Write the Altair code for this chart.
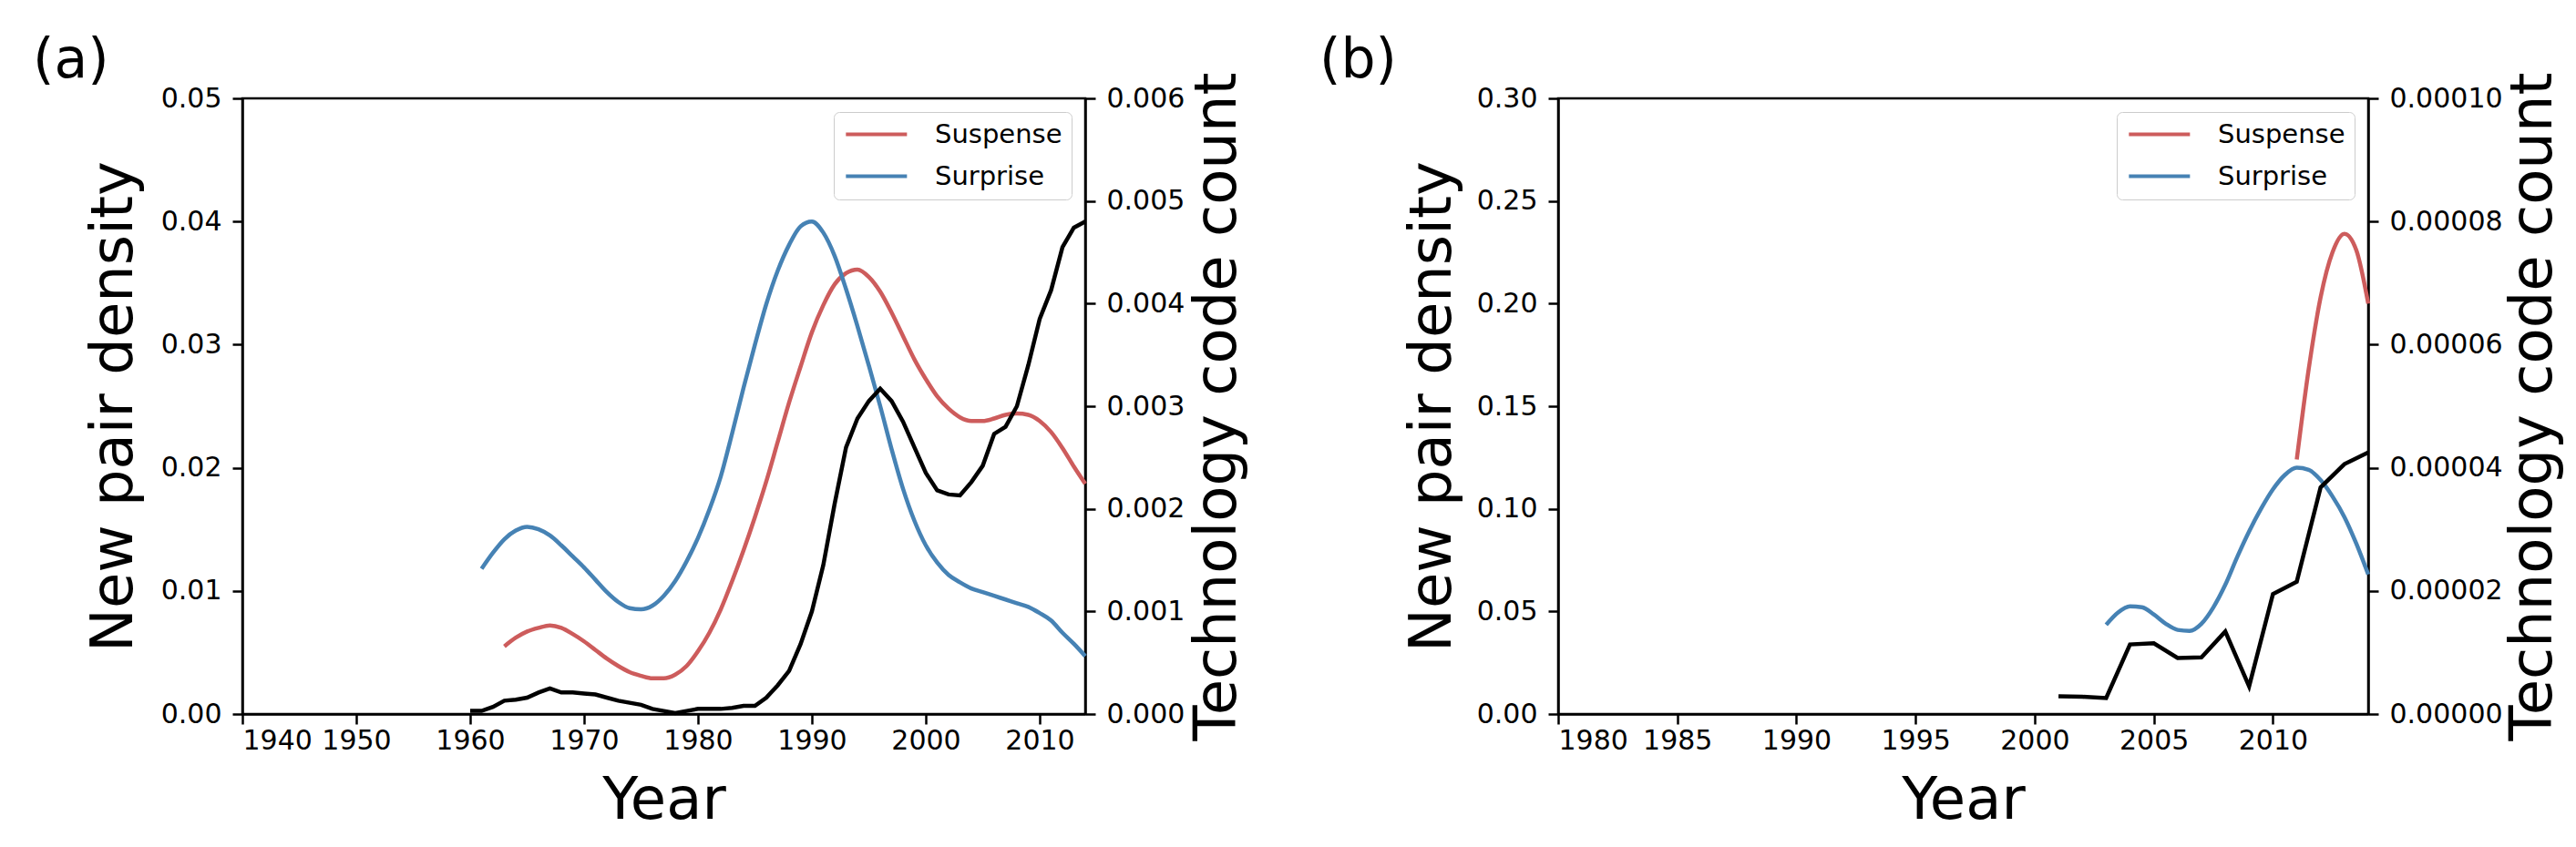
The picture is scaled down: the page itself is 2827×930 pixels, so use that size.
import altair as alt
import pandas as pd

# ---------------- data ----------------
# Panel (a)
A_SURPRISE_YEARS = list(range(1961, 2015))
A_SURPRISE = [0.0118, 0.0131, 0.0142, 0.0149, 0.0152, 0.0150, 0.0145, 0.0137, 0.0128, 0.0119,
              0.0109, 0.0099, 0.0091, 0.0086, 0.0085, 0.0088, 0.0096, 0.0108, 0.0124, 0.0143,
              0.0166, 0.0193, 0.0228, 0.0265, 0.0300, 0.0333, 0.0360, 0.0381, 0.0396, 0.0400,
              0.0391, 0.0372, 0.0345, 0.0315, 0.0283, 0.0250, 0.0215, 0.0183, 0.0157, 0.0137,
              0.0123, 0.0113, 0.0107, 0.0102, 0.0099, 0.0096, 0.0093, 0.0090, 0.0087, 0.0082,
              0.0076, 0.0066, 0.0057, 0.0047]
A_SUSPENSE_YEARS = list(range(1963, 2015))
A_SUSPENSE = [0.0055, 0.0062, 0.0067, 0.0070, 0.0072, 0.0070, 0.0065, 0.0059,
              0.0052, 0.0045, 0.0039, 0.0034, 0.0031, 0.0029, 0.0029, 0.0032, 0.0039, 0.0051,
              0.0066, 0.0085, 0.0108, 0.0133, 0.0160, 0.0189, 0.0221, 0.0253, 0.0282, 0.0310,
              0.0332, 0.0349, 0.0358, 0.0361, 0.0355, 0.0343, 0.0326, 0.0307, 0.0288, 0.0272,
              0.0258, 0.0248, 0.0241, 0.0238, 0.0238, 0.0240, 0.0243, 0.0244, 0.0243, 0.0238,
              0.0229, 0.0216, 0.0201, 0.0187]
A_TECH_YEARS = list(range(1960, 2015))
A_TECH = [0.00003, 0.00003, 0.00007, 0.00013, 0.00014, 0.00016, 0.00021, 0.00025, 0.00021, 0.00021,
          0.00020, 0.00019, 0.00016, 0.00013, 0.00011, 0.00009, 0.00005, 0.00003, 0.00001, 0.00003,
          0.00005, 0.00005, 0.00005, 0.00006, 0.00008, 0.00008, 0.00016, 0.00028, 0.00042, 0.00068,
          0.00100, 0.00145, 0.00205, 0.00260, 0.00288, 0.00305, 0.00317, 0.00305, 0.00285, 0.00260,
          0.00235, 0.00218, 0.00214, 0.00213, 0.00226, 0.00242, 0.00273, 0.00280, 0.00300, 0.00340,
          0.00385, 0.00413, 0.00455, 0.00474, 0.00480]

# Panel (b)
B_SURPRISE_YEARS = [2003.0, 2003.5, 2004.0, 2004.5, 2005.0, 2005.5, 2006.0, 2006.5, 2007.0, 2007.5,
                    2008.0, 2008.5, 2009.0, 2009.5, 2010.0, 2010.5, 2011.0, 2011.5, 2012.0, 2012.5,
                    2013.0, 2013.5, 2014.0]
B_SURPRISE = [0.0435, 0.0495, 0.0525, 0.0520, 0.0485, 0.0440, 0.0410, 0.0405, 0.0440, 0.0520,
              0.0630, 0.0765, 0.0890, 0.1000, 0.1095, 0.1165, 0.1200, 0.1190, 0.1140, 0.1060,
              0.0960, 0.0830, 0.0680]
B_SUSPENSE_YEARS = [2011.0, 2011.5, 2012.0, 2012.5, 2013.0, 2013.5, 2014.0]
B_SUSPENSE = [0.124, 0.168, 0.203, 0.225, 0.234, 0.226, 0.200]
B_TECH_YEARS = list(range(2001, 2015))
B_TECH = [0.0000029, 0.0000028, 0.0000026, 0.0000113, 0.0000115, 0.0000091, 0.0000092,
          0.0000134, 0.0000045, 0.0000195, 0.0000215, 0.0000368, 0.0000406, 0.0000425]

# ticks
A_XTICKS = [1940, 1950, 1960, 1970, 1980, 1990, 2000, 2010]
A_LTICKS = [0.00, 0.01, 0.02, 0.03, 0.04, 0.05]
A_RTICKS = [0.000, 0.001, 0.002, 0.003, 0.004, 0.005, 0.006]
B_XTICKS = [1980, 1985, 1990, 1995, 2000, 2005, 2010]
B_LTICKS = [0.00, 0.05, 0.10, 0.15, 0.20, 0.25, 0.30]
B_RTICKS = [0.0, 0.00002, 0.00004, 0.00006, 0.00008, 0.00010]

SERIES = ["Suspense", "Surprise"]
COLORS = ["#cd5c5c", "#4682b4"]

FONT_TXT = "DejaVu Sans"
FONT_TICK = "DejaVu Sans"
TICK_FS = 30
PLOT_H = 676
LW = 4.5


def panel(label, label_dx, sus_y, sus_v, sur_y, sur_v, tech_y, tech_v,
          xdom, xticks, ldom, lticks, lfmt, rdom, rticks, rfmt, width, ltx, rtx):
    dens = pd.DataFrame({
        "Year": list(sus_y) + list(sur_y),
        "value": list(sus_v) + list(sur_v),
        "series": [SERIES[0]] * len(sus_y) + [SERIES[1]] * len(sur_y),
    })
    tech = pd.DataFrame({"Year": tech_y, "count": tech_v})
    xscale = alt.Scale(domain=xdom, nice=False, zero=False)
    xaxis = alt.Axis(values=xticks, format="d", title="Year", titleY=114,
                     titleBaseline="alphabetic", labelPadding=3)
    lines = alt.Chart(dens).mark_line(strokeWidth=LW, interpolate="monotone").encode(
        x=alt.X("Year:Q", scale=xscale, axis=xaxis),
        y=alt.Y("value:Q", scale=alt.Scale(domain=ldom, nice=False),
                axis=alt.Axis(orient="left", values=lticks, format=lfmt,
                              title="New pair density", titleX=ltx,
                              titleBaseline="middle", labelPadding=12)),
        color=alt.Color("series:N", sort=SERIES,
                        scale=alt.Scale(domain=SERIES, range=COLORS),
                        legend=alt.Legend(title=None, orient="top-right", offset=15,
                                          padding=10, fillColor="white",
                                          strokeColor="#cccccc", cornerRadius=6,
                                          labelFont=FONT_TICK, labelFontSize=29,
                                          labelColor="black", labelLimit=400,
                                          symbolType="M-1,0H5", symbolSize=499,
                                          symbolStrokeWidth=4, labelOffset=72,
                                          rowPadding=16)),
    )
    tl = alt.Chart(tech).mark_line(color="black", strokeWidth=LW).encode(
        x=alt.X("Year:Q", scale=xscale, axis=xaxis),
        y=alt.Y("count:Q", scale=alt.Scale(domain=rdom, nice=False),
                axis=alt.Axis(orient="right", values=rticks, format=rfmt,
                              title="Technology code count", titleX=rtx,
                              titleAngle=270, titleBaseline="middle", labelPadding=12)),
    )
    return alt.layer(lines, tl).resolve_scale(y="independent").properties(
        width=width, height=PLOT_H,
        title=alt.TitleParams(label, anchor="start", frame="group", dx=label_dx, dy=66,
                              fontSize=60, font=FONT_TXT, fontWeight="normal",
                              color="black", baseline="alphabetic", offset=0),
    )


pa = panel("(a)", -230, A_SUSPENSE_YEARS, A_SUSPENSE, A_SURPRISE_YEARS, A_SURPRISE,
           A_TECH_YEARS, A_TECH, [1940, 2014], A_XTICKS, [0, 0.05], A_LTICKS, ".2f",
           [0, 0.006], A_RTICKS, ".3f", 925, -141, 145)
pb = panel("(b)", -262, B_SUSPENSE_YEARS, B_SUSPENSE, B_SURPRISE_YEARS, B_SURPRISE,
           B_TECH_YEARS, B_TECH, [1980, 2014], B_XTICKS, [0, 0.30], B_LTICKS, ".2f",
           [0, 0.0001], B_RTICKS, ".5f", 889, -138, 181)

chart = alt.hconcat(pa, pb, spacing=76).resolve_scale(
    color="independent"
).resolve_legend(color="independent").properties(
    padding={"left": 26, "top": 27, "right": 5, "bottom": 5},
    background="white",
).configure_view(stroke="black", strokeWidth=2.5).configure_axis(
    grid=False, domainColor="black", domainWidth=2.5, tickColor="black", tickWidth=2.5,
    tickSize=11, labelFont=FONT_TICK, labelFontSize=TICK_FS, labelColor="black",
    titleFont=FONT_TXT, titleFontSize=64, titleFontWeight="normal", titleColor="black",
)

chart.save("out.html", embed_options={"renderer": "svg", "actions": False})
